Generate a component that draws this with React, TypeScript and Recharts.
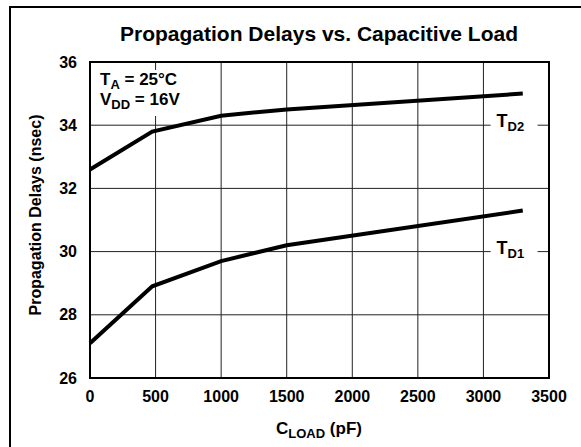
import React from 'react';
import {
  LineChart, Line, XAxis, YAxis, CartesianGrid, ReferenceArea, ReferenceDot
} from 'recharts';

// load capacitance (pF) and propagation delays (nsec)
const loads = [0, 475, 1000, 1500, 3300];
const td2 = [32.6, 33.8, 34.3, 34.5, 35.0];
const td1 = [27.1, 28.9, 29.7, 30.2, 31.3];

const xTicks = [0, 500, 1000, 1500, 2000, 2500, 3000, 3500];
const yTicks = [26, 28, 30, 32, 34, 36];

const FONT = '"Liberation Sans", Arial, Helvetica, sans-serif';

const data = loads.map((x, i) => ({ x, td2: td2[i], td1: td1[i] }));

// series label sitting on a gridline, with white background breaking the line
const SeriesTag = ({ cx, cy, sub }: any) => (
  <g>
    <rect x={cx - 23} y={cy - 11} width={47} height={22} fill="#fff" />
    <text x={cx - 17} y={cy + 2} fontFamily={FONT} fontWeight="bold" fontSize={18} fill="#000">
      T<tspan dy={4} fontSize={13}>{sub}</tspan>
    </text>
  </g>
);

export default function App() {
  return (
    <div style={{ position: 'absolute', left: 0, top: 0, width: 581, height: 447, overflow: 'hidden', background: '#fff', fontFamily: FONT }}>
      <div style={{ position: 'absolute', left: 9, top: 6, width: 700, height: 600, border: '2px solid #000' }} />

      <div style={{ position: 'absolute', left: 0, width: 638, top: 22, textAlign: 'center', fontSize: 21, fontWeight: 'bold', lineHeight: '24px' }}>
        Propagation Delays vs. Capacitive Load
      </div>

      <LineChart width={581} height={447} data={data} margin={{ top: 62, right: 32, bottom: 39, left: 30 }}>
        <CartesianGrid stroke="#222" strokeWidth={1} />
        <XAxis
          type="number" dataKey="x" domain={[0, 3500]} ticks={xTicks} height={30}
          axisLine={false} tickLine={false} tickSize={0} tickMargin={13}
          tick={{ fill: '#000', fontSize: 16, fontWeight: 'bold', fontFamily: FONT }}
        />
        <YAxis
          type="number" domain={[26, 36]} ticks={yTicks} width={60}
          axisLine={false} tickLine={false} tickSize={0} tickMargin={13}
          tick={{ fill: '#000', fontSize: 16, fontWeight: 'bold', fontFamily: FONT }}
        />
        <ReferenceArea x1={0} x2={3500} y1={26} y2={36} fill="none" stroke="#000" strokeWidth={2} />
        <ReferenceDot x={3230} y={34} r={0} shape={(p: any) => <SeriesTag {...p} sub="D2" />} />
        <ReferenceDot x={3230} y={30} r={0} shape={(p: any) => <SeriesTag {...p} sub="D1" />} />
        <Line type="linear" dataKey="td2" stroke="#000" strokeWidth={4} dot={false} isAnimationActive={false} />
        <Line type="linear" dataKey="td1" stroke="#000" strokeWidth={4} dot={false} isAnimationActive={false} />
      </LineChart>

      <div style={{ position: 'absolute', left: 97, top: 70, width: 90, height: 46, background: '#fff', fontSize: 17, fontWeight: 'bold', lineHeight: '19px', paddingLeft: 3 }}>
        <div>T<span style={{ fontSize: 13, position: 'relative', top: 4 }}>A</span> = 25°C</div>
        <div>V<span style={{ fontSize: 13, position: 'relative', top: 4 }}>DD</span> = 16V</div>
      </div>

      <div style={{ position: 'absolute', left: 0, width: 638, top: 419, textAlign: 'center', fontSize: 17, fontWeight: 'bold', lineHeight: '20px' }}>
        C<span style={{ fontSize: 13, position: 'relative', top: 4 }}>LOAD</span> (pF)
      </div>

      <div style={{ position: 'absolute', left: 36, top: 215, width: 0, height: 0 }}>
        <div style={{ position: 'absolute', left: -150, top: -10, width: 300, textAlign: 'center', fontSize: 16, fontWeight: 'bold', lineHeight: '20px', transform: 'rotate(-90deg)', whiteSpace: 'nowrap' }}>
          Propagation Delays (nsec)
        </div>
      </div>
    </div>
  );
}
